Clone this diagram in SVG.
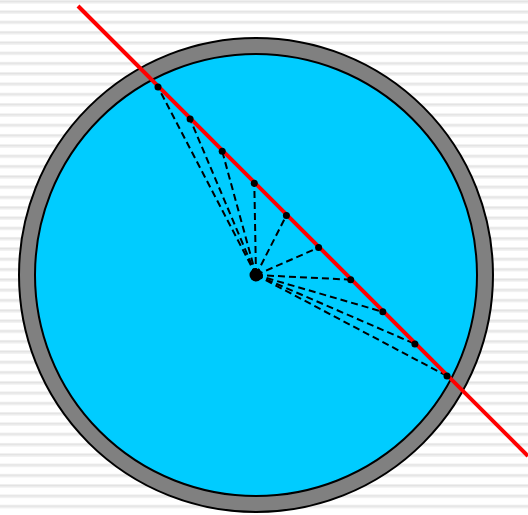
<svg xmlns="http://www.w3.org/2000/svg" width="528" height="515" viewBox="0 0 528 515">
<defs>
<pattern id="stripes" x="0" y="0" width="528" height="10.3" patternUnits="userSpaceOnUse">
<rect x="0" y="0" width="528" height="10.3" fill="#ffffff"/>
<rect x="0" y="0" width="528" height="1" fill="#eeeeee"/>
<rect x="0" y="1" width="528" height="1.5" fill="#e2e2e2"/>
<rect x="0" y="2.5" width="528" height="1" fill="#eeeeee"/>
</pattern>
<style>
.dash{stroke:#000;stroke-width:2;stroke-dasharray:7 4;fill:none}
.pt{fill:#000}
</style>
</defs>
<rect width="528" height="515" fill="url(#stripes)"/>
<g id="pipe">
<circle cx="256" cy="275" r="237" fill="#808080" stroke="#000" stroke-width="2"/>
<circle cx="256" cy="275" r="221" fill="#00CCFF" stroke="#000" stroke-width="2"/>
</g>
<g id="connectors">
<line class="dash" x1="256" y1="275" x2="158" y2="87"/>
<line class="dash" x1="256" y1="275" x2="190.1" y2="119.1"/>
<line class="dash" x1="256" y1="275" x2="222.2" y2="151.2"/>
<line class="dash" x1="256" y1="275" x2="254.3" y2="183.3"/>
<line class="dash" x1="256" y1="275" x2="286.4" y2="215.4"/>
<line class="dash" x1="256" y1="275" x2="318.6" y2="247.6"/>
<line class="dash" x1="256" y1="275" x2="350.7" y2="279.7"/>
<line class="dash" x1="256" y1="275" x2="382.8" y2="311.8"/>
<line class="dash" x1="256" y1="275" x2="414.9" y2="343.9"/>
<line class="dash" x1="256" y1="275" x2="447" y2="376"/>
</g>
<g id="chord">
<line x1="78" y1="6" x2="528" y2="456" stroke="#FF0000" stroke-width="4"/>
</g>
<g id="center"><circle class="pt" cx="256" cy="275" r="6.5"/></g>
<g id="points">
<circle class="pt" cx="158" cy="87" r="3.5"/>
<circle class="pt" cx="190.1" cy="119.1" r="3.5"/>
<circle class="pt" cx="222.2" cy="151.2" r="3.5"/>
<circle class="pt" cx="254.3" cy="183.3" r="3.5"/>
<circle class="pt" cx="286.4" cy="215.4" r="3.5"/>
<circle class="pt" cx="318.6" cy="247.6" r="3.5"/>
<circle class="pt" cx="350.7" cy="279.7" r="3.5"/>
<circle class="pt" cx="382.8" cy="311.8" r="3.5"/>
<circle class="pt" cx="414.9" cy="343.9" r="3.5"/>
<circle class="pt" cx="447" cy="376" r="3.5"/>
</g>
</svg>
